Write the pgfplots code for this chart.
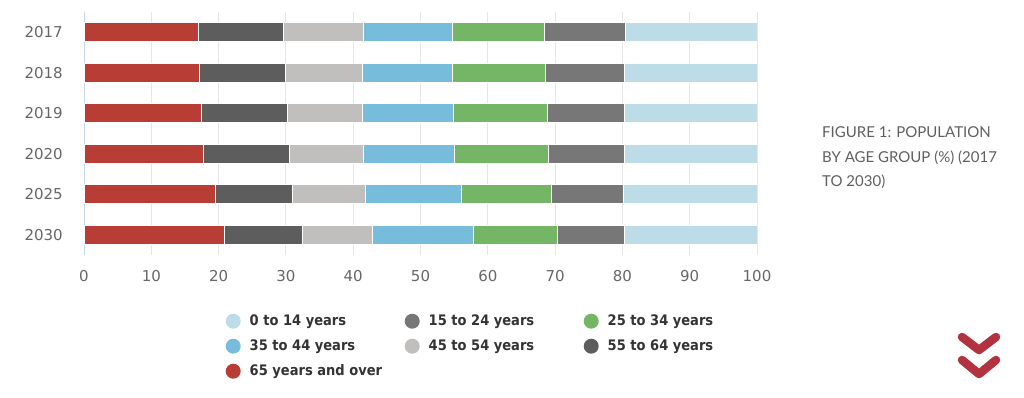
\documentclass[border=0pt]{standalone}
\usepackage{pgfplots}
\pgfplotsset{compat=1.18}
\usepackage{fontspec}
\setmainfont{DejaVu Sans}
\newfontfamily\capfont{Lato}
\newfontfamily\legfont{DejaVu Sans}[FakeStretch=0.9]
\definecolor{cRed}{HTML}{B83D35}
\definecolor{cDark}{HTML}{5E5D5E}
\definecolor{cLGray}{HTML}{C0BFBD}
\definecolor{cBlue}{HTML}{77BDDB}
\definecolor{cGreen}{HTML}{75B666}
\definecolor{cGray}{HTML}{777777}
\definecolor{cLBlue}{HTML}{BCDCE8}
\definecolor{axisc}{HTML}{CCD6EB}
\definecolor{gridc}{HTML}{E6E6E6}
\definecolor{tickc}{HTML}{666666}
\definecolor{legc}{HTML}{333333}
\definecolor{capc}{HTML}{5F5F5F}
\definecolor{chev}{HTML}{B2323F}
\begin{document}
\begin{tikzpicture}[x=1pt,y=1pt]
\useasboundingbox (0,0) rectangle (1024,398);
\begin{axis}[
  at={(84pt,143pt)}, anchor=south west,
  scale only axis, width=673pt, height=243pt,
  xbar stacked, bar width=19pt,
  xmin=0, xmax=100, ymin=-0.5, ymax=5.5, y dir=reverse,
  xtick={0,10,...,100}, ytick={0,1,2,3,4,5},
  yticklabels={2017,2018,2019,2020,2025,2030},
  xmajorgrids, grid style={color=gridc, line width=1pt},
  axis x line*=bottom, axis y line*=left,
  x axis line style={draw=none},
  y axis line style={draw=axisc, line width=1pt},
  major tick length=0pt, tick style={draw=none},
  tick label style={font=\fontsize{15}{18}\selectfont, text=tickc, inner sep=0pt},
  xticklabel style={anchor=north, yshift=-15.5pt},
  yticklabel style={anchor=east, xshift=-21pt},
  /pgf/number format/assume math mode=true,
  every axis plot/.append style={draw=white, line width=1pt},
  reverse legend, legend columns=3, legend cell align=left,
  legend image code/.code={\fill[#1,draw=none] (7.5pt,0pt) circle (7.5pt);},
  legend style={at={(0.2103,0)}, anchor=north west, yshift=-58.5pt,
    draw=none, fill=none, inner sep=0pt, row sep=10pt,
    font=\legfont\bfseries\fontsize{14.5}{16}\selectfont, text=legc,
    nodes={inner sep=0pt, text height=11pt, text depth=3pt},
    /tikz/every odd column/.style={column sep=9pt},
    /tikz/every even column/.style={column sep=0pt}},
]
\addplot[fill=cRed] coordinates {(17.0,0) (17.1,1) (17.4,2) (17.8,3) (19.5,4) (20.9,5)};
\addlegendentry{65 years and over}
\addplot[fill=cDark] coordinates {(12.7,0) (12.8,1) (12.9,2) (12.7,3) (11.5,4) (11.5,5)};
\addlegendentry{\makebox[155pt][l]{55 to 64 years}}
\addplot[fill=cLGray] coordinates {(11.8,0) (11.5,1) (11.1,2) (11.0,3) (10.9,4) (10.5,5)};
\addlegendentry{\makebox[155pt][l]{45 to 54 years}}
\addplot[fill=cBlue] coordinates {(13.2,0) (13.3,1) (13.5,2) (13.6,3) (14.2,4) (14.9,5)};
\addlegendentry{\makebox[155pt][l]{35 to 44 years}}
\addplot[fill=cGreen] coordinates {(13.7,0) (13.9,1) (13.9,2) (13.9,3) (13.4,4) (12.5,5)};
\addlegendentry{\makebox[155pt][l]{25 to 34 years}}
\addplot[fill=cGray] coordinates {(12.1,0) (11.7,1) (11.5,2) (11.3,3) (10.6,4) (10.0,5)};
\addlegendentry{\makebox[155pt][l]{15 to 24 years}}
\addplot[fill=cLBlue] coordinates {(19.5,0) (19.7,1) (19.7,2) (19.7,3) (19.9,4) (19.7,5)};
\addlegendentry{\makebox[155pt][l]{0 to 14 years}}
\end{axis}
\node[anchor=base west, align=left, inner sep=0pt, text=capc,
  font=\capfont\fontsize{15}{24.5}\selectfont] at (822,211)
  {FIGURE 1: POPULATION\\BY AGE GROUP (\%) (2017\\TO 2030)};
\draw[chev, line width=8.5pt, line cap=round, line join=round]
  (962,61) -- (979,48) -- (996,61);
\draw[chev, line width=8.5pt, line cap=round, line join=round]
  (962,38) -- (979,24) -- (996,38);
\end{tikzpicture}
\end{document}
